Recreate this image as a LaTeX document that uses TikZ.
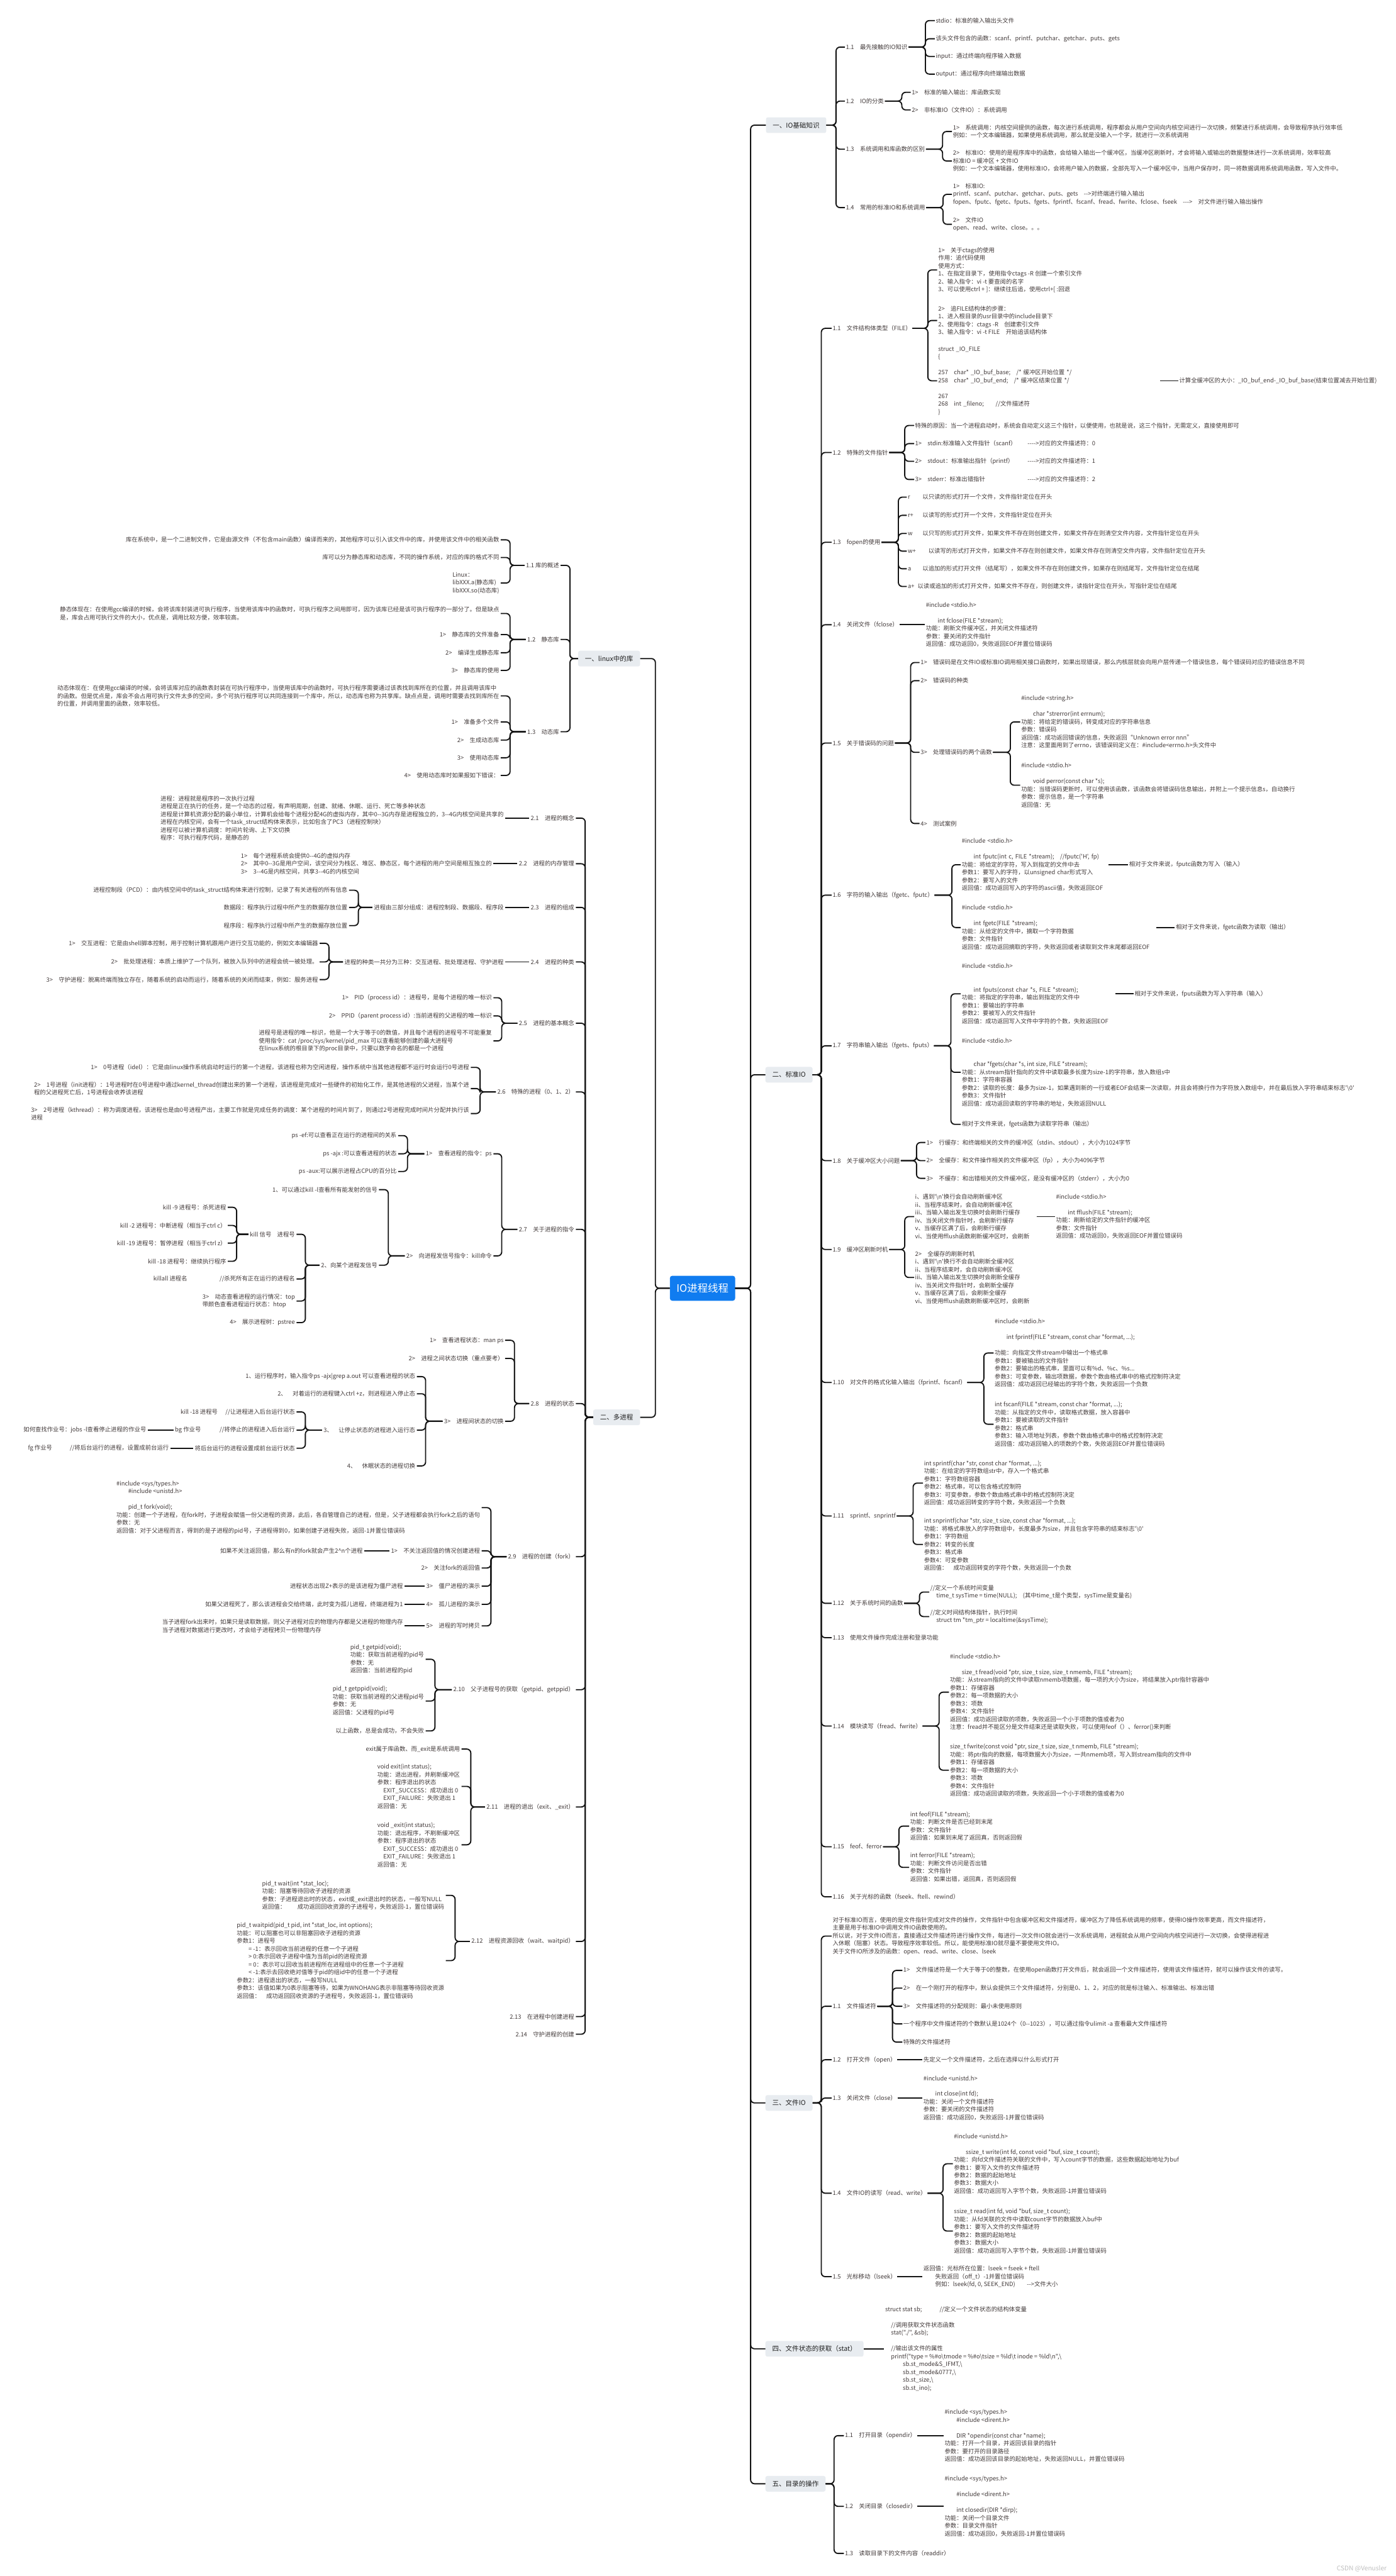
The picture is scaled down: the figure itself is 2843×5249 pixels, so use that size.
\documentclass[tikz,border=0pt]{standalone}
\usepackage{fontspec}
\newfontfamily\cnfont{Noto Sans CJK SC}
\definecolor{leafc}{RGB}{66,58,58}
\definecolor{topicc}{RGB}{232,236,240}
\definecolor{topict}{RGB}{30,30,30}
\definecolor{rootc}{RGB}{16,124,240}
\definecolor{linec}{RGB}{20,20,20}
\newcommand\leaffont{\cnfont\fontsize{12}{16}\selectfont}
\newcommand\topicfont{\cnfont\fontsize{13.5}{16}\selectfont}
\newcommand\rootfont{\cnfont\fontsize{21}{24}\selectfont}
\tikzset{
  leaf/.style={anchor=west, inner xsep=2pt, inner ysep=1pt, align=left, font=\leaffont, text=leafc},
  lleaf/.style={leaf, anchor=east, inner xsep=3pt},
  topic/.style={anchor=west, fill=topicc, rounded corners=4pt, inner xsep=14pt, minimum height=32pt, font=\topicfont, text=topict},
  ltopic/.style={topic, anchor=east},
  rootnode/.style={fill=rootc, rounded corners=5pt, minimum width=133pt, minimum height=51pt, font=\rootfont, text=white},
  link/.style={draw=linec, line width=2.4pt, rounded corners=8pt},
}
% parent -> spine x -> child
\newcommand\rlink[3]{\draw[link] (#1.east) -- (#1.east -| #3,0) |- (#2.west);}
\newcommand\llink[3]{\draw[link] (#1.west) -- (#1.west -| #3,0) |- (#2.east);}
\newcommand\slink[2]{\draw[link] (#1.east) -- (#2.west);}
\newcommand\lslink[2]{\draw[link] (#1.west) -- (#2.east);}

\begin{document}
\begin{tikzpicture}[x=1pt,y=-1pt]
  \fill[white] (0,0) rectangle (2843,5249);
  \useasboundingbox (0,0) rectangle (2843,5249);

  \node[rootnode] (io) at (1431,2625) {IO进程线程};

  %--- 一、IO基础知识 ---
  \node[topic] (bio) at (1560,255) {一、IO基础知识};
  \node[leaf] (b1) at (1721,96) {1.1　最先接触的IO知识};
  \node[leaf] (b1a) at (1904,42) {stdio：标准的输入输出头文件};
  \node[leaf] (b1b) at (1904,79) {该头文件包含的函数：scanf、printf、putchar、getchar、puts、gets};
  \node[leaf] (b1c) at (1904,115) {input：通过终端向程序输入数据};
  \node[leaf] (b1d) at (1904,151) {output：通过程序向终端输出数据};
  \node[leaf] (b2) at (1721,206) {1.2　IO的分类};
  \node[leaf] (b2a) at (1855,188) {1>　标准的输入输出：库函数实现};
  \node[leaf] (b2b) at (1855,224) {2>　非标准IO（文件IO）：系统调用};
  \node[leaf] (b3) at (1721,304) {1.3　系统调用和库函数的区别};
  \node[leaf] (b3a) at (1939,268) {1>　系统调用：内核空间提供的函数，每次进行系统调用，程序都会从用户空间向内核空间进行一次切换，频繁进行系统调用，会导致程序执行效率低\\例如：一个文本编辑器，如果使用系统调用，那么就是没输入一个字，就进行一次系统调用};
  \node[leaf] (b3b) at (1939,328) {2>　标准IO：使用的是程序库中的函数，会给输入输出一个缓冲区，当缓冲区刷新时，才会将输入或输出的数据整体进行一次系统调用，效率较高\\标准IO = 缓冲区 + 文件IO\\例如：一个文本编辑器，使用标准IO，会将用户输入的数据，全部先写入一个缓冲区中，当用户保存时，同一将数据调用系统调用函数，写入文件中。};
  \node[leaf] (b4) at (1721,423) {1.4　常用的标准IO和系统调用};
  \node[leaf] (b4a) at (1939,396) {1>　标准IO:\\printf、scanf、putchar、getchar、puts、gets　-->对终端进行输入输出\\fopen、fputc、fgetc、fputs、fgets、fprintf、fscanf、fread、fwrite、fclose、fseek　--->　对文件进行输入输出操作};
  \node[leaf] (b4b) at (1939,457) {2>　文件IO\\open、read、write、close。。。};

  \rlink{io}{bio}{1529}
  \rlink{bio}{b1}{1703} \rlink{bio}{b2}{1703} \rlink{bio}{b3}{1703} \rlink{bio}{b4}{1703}
  \rlink{b1}{b1a}{1885} \rlink{b1}{b1b}{1885} \rlink{b1}{b1c}{1885} \rlink{b1}{b1d}{1885}
  \rlink{b2}{b2a}{1837} \rlink{b2}{b2b}{1837}
  \rlink{b3}{b3a}{1920} \rlink{b3}{b3b}{1920}
  \rlink{b4}{b4a}{1921} \rlink{b4}{b4b}{1921}

  %--- 二、标准IO ---
  \node[topic] (sio) at (1559,2190) {二、标准IO};
  \node[leaf] (s1) at (1694,669) {1.1　文件结构体类型（FILE）};
  \node[leaf] (s1a) at (1909,550) {1>　关于ctags的使用\\作用：追代码使用\\使用方式：\\1、在指定目录下，使用指令ctags -R 创建一个索引文件\\2、输入指令：vi -t 要查阅的名字\\3、可以使用ctrl + ]：继续往后追，使用ctrl+[ :回退};
  \node[leaf] (s1b) at (1909,653) {2>　追FILE结构体的步骤：\\1、进入根目录的usr目录中的include目录下\\2、使用指令：ctags -R　创建索引文件\\3、输入指令：vi -t FILE　开始追该结构体};
  \node[leaf, text width=450pt] (s1c) at (1909,776) {struct \_IO\_FILE\\\{\\[16pt]257　char* \_IO\_buf\_base;　/* 缓冲区开始位置 */\\258　char* \_IO\_buf\_end;　/* 缓冲区结束位置 */\\[16pt]267\\268　int \_fileno;　　//文件描述符\\\}};
  \node[leaf] (s1c1) at (2400,776) {计算全缓冲区的大小：\_IO\_buf\_end-\_IO\_buf\_base(结束位置减去开始位置)};
  \node[leaf] (s2) at (1694,922) {1.2　特殊的文件指针};
  \node[leaf] (s2a) at (1862,867) {特殊的原因：当一个进程启动时，系统会自动定义这三个指针，以便使用，也就是说，这三个指针，无需定义，直接使用即可};
  \node[leaf] (s2b) at (1862,904) {\makebox[229pt][l]{1>　stdin:标准输入文件指针（scanf）}---->对应的文件描述符：0};
  \node[leaf] (s2c) at (1862,940) {\makebox[229pt][l]{2>　stdout：标准输出指针（printf）}---->对应的文件描述符：1};
  \node[leaf] (s2d) at (1862,977) {\makebox[229pt][l]{3>　stderr：标准出错指针}---->对应的文件描述符：2};
  \node[leaf] (s3) at (1694,1105) {1.3　fopen的使用};
  \node[leaf] (s3a) at (1847,1013) {\makebox[30pt][l]{r}以只读的形式打开一个文件，文件指针定位在开头};
  \node[leaf] (s3b) at (1847,1050) {\makebox[30pt][l]{r+}以读写的形式打开一个文件，文件指针定位在开头};
  \node[leaf] (s3c) at (1847,1087) {\makebox[30pt][l]{w}以只写的形式打开文件，如果文件不存在则创建文件，如果文件存在则清空文件内容，文件指针定位在开头};
  \node[leaf] (s3d) at (1847,1123) {\makebox[42pt][l]{w+}以读写的形式打开文件，如果文件不存在则创建文件，如果文件存在则清空文件内容，文件指针定位在开头};
  \node[leaf] (s3e) at (1847,1159) {\makebox[30pt][l]{a}以追加的形式打开文件（结尾写），如果文件不存在则创建文件，如果存在则结尾写，文件指针定位在结尾};
  \node[leaf] (s3f) at (1847,1195) {\makebox[20pt][l]{a+}以读或追加的形式打开文件，如果文件不存在，则创建文件，读指针定位在开头，写指针定位在结尾};
  \node[leaf] (s4) at (1694,1273) {1.4　关闭文件（fclose）};
  \node[leaf] (s4a) at (1884,1273) {\#include <stdio.h>\\[16pt]　　int fclose(FILE *stream);\\功能：刷新文件缓冲区，并关闭文件描述符\\参数：要关闭的文件指针\\返回值：成功返回0，失败返回EOF并置位错误码};
  \node[leaf] (s5) at (1694,1514) {1.5　关于错误码的问题};
  \node[leaf] (s5a) at (1873,1350) {1>　错误码是在文件IO或标准IO调用相关接口函数时，如果出现错误，那么内核层就会向用户层传递一个错误信息，每个错误码对应的错误信息不同};
  \node[leaf] (s5b) at (1873,1387) {2>　错误码的种类};
  \node[leaf] (s5c) at (1873,1533) {3>　处理错误码的两个函数};
  \node[leaf] (s5d) at (1873,1678) {4>　测试案例};
  \node[leaf] (s5c1) at (2078,1471) {\#include <string.h>\\[16pt]　　char *strerror(int errnum);\\功能：将给定的错误码，转变成对应的字符串信息\\参数：错误码\\返回值：成功返回错误的信息，失败返回“Unknown error nnn”\\注意：这里面用到了errno，该错误码定义在：\#include<errno.h>头文件中};
  \node[leaf] (s5c2) at (2078,1600) {\#include <stdio.h>\\[16pt]　　void perror(const char *s);\\功能：当错误码更新时，可以使用该函数，该函数会将错误码信息输出，并附上一个提示信息s，自动换行\\参数：提示信息，是一个字符串\\返回值：无};
  \node[leaf] (s6) at (1694,1824) {1.6　字符的输入输出（fgetc、fputc）};
  \node[leaf, text width=296pt] (s6a) at (1957,1762) {\#include <stdio.h>\\[16pt]　　int fputc(int c, FILE *stream);　//fputc('H', fp)\\功能：将给定的字符，写入到指定的文件中去\\参数1：要写入的字符，以unsigned char形式写入\\参数2：要写入的文件\\返回值：成功返回写入的字符的ascii值，失败返回EOF};
  \node[leaf] (s6a1) at (2298,1762) {相对于文件来说，fputc函数为写入（输入）};
  \node[leaf, text width=394pt] (s6b) at (1957,1890) {\#include <stdio.h>\\[16pt]　　int fgetc(FILE *stream);\\功能：从给定的文件中，摘取一个字符数据\\参数：文件指针\\返回值：成功返回摘取的字符，失败返回或者读取到文件末尾都返回EOF};
  \node[leaf] (s6b1) at (2393,1890) {相对于文件来说，fgetc函数为读取（输出）};
  \node[leaf] (s7) at (1694,2131) {1.7　字符串输入输出（fgets、fputs）};
  \node[leaf, text width=311pt] (s7a) at (1957,2025) {\#include <stdio.h>\\[32pt]　　int fputs(const char *s, FILE *stream);\\功能：将指定的字符串，输出到指定的文件中\\参数1：要输出的字符串\\参数2：要被写入的文件指针\\返回值：成功返回写入文件中字符的个数，失败返回EOF};
  \node[leaf] (s7a1) at (2309,2025) {相对于文件来说，fputs函数为写入字符串（输入）};
  \node[leaf] (s7b) at (1957,2185) {\#include <stdio.h>\\[32pt]　　char *fgets(char *s, int size, FILE *stream);\\功能：从stream指针指向的文件中读取最多长度为size-1的字符串，放入数组s中\\参数1：字符串容器\\参数2：读取的长度：最多为size-1，如果遇到新的一行或者EOF会结束一次读取，并且会将换行作为字符放入数组中，并在最后放入字符串结束标志'\textbackslash 0'\\参数3：文件指针\\返回值：成功返回读取的字符串的地址，失败返回NULL};
  \node[leaf] (s7c) at (1957,2291) {相对于文件来说，fgets函数为读取字符串（输出）};
  \node[leaf] (s8) at (1694,2365) {1.8　关于缓冲区大小问题};
  \node[leaf] (s8a) at (1885,2328) {1>　行缓存：和终端相关的文件的缓冲区（stdin、stdout），大小为1024字节};
  \node[leaf] (s8b) at (1885,2365) {2>　全缓存：和文件操作相关的文件缓冲区（fp），大小为4096字节};
  \node[leaf] (s8c) at (1885,2401) {3>　不缓存：和出错相关的文件缓冲区，是没有缓冲区的（stderr），大小为0};
  \node[leaf] (s9) at (1694,2546) {1.9　缓冲区刷新时机};
  \node[leaf, text width=245pt] (s9a) at (1862,2479) {i、遇到'\textbackslash n'换行会自动刷新缓冲区\\ii、当程序结束时，会自动刷新缓冲区\\iii、当输入输出发生切换时会刷新行缓存\\iv、当关闭文件指针时，会刷新行缓存\\v、当缓存区满了后，会刷新行缓存\\vi、当使用fflush函数刷新缓冲区时，会刷新};
  \node[leaf] (s9a1) at (2149,2479) {\#include <stdio.h>\\[16pt]　　int fflush(FILE *stream);\\功能：刷新给定的文件指针的缓冲区\\参数：文件指针\\返回值：成功返回0，失败返回EOF并置位错误码};
  \node[leaf] (s9b) at (1862,2603) {2>　全缓存的刷新时机\\i、遇到'\textbackslash n'换行不会自动刷新全缓冲区\\ii、当程序结束时，会自动刷新缓冲区\\iii、当输入输出发生切换时会刷新全缓存\\iv、当关闭文件指针时，会刷新全缓存\\v、当缓存区满了后，会刷新全缓存\\vi、当使用fflush函数刷新缓冲区时，会刷新};
  \node[leaf] (s10) at (1694,2817) {1.10　对文件的格式化输入输出（fprintf、fscanf）};
  \node[leaf] (s10a) at (2024,2757) {\#include <stdio.h>\\[16pt]　　int fprintf(FILE *stream, const char *format, ...);\\[16pt]功能：向指定文件stream中输出一个格式串\\参数1：要被输出的文件指针\\参数2：要输出的格式串，里面可以有\%d、\%c、\%s...\\参数3：可变参数，输出项数据，参数个数由格式串中的格式控制符决定\\返回值：成功返回已经输出的字符个数，失败返回一个负数};
  \node[leaf] (s10b) at (2024,2902) {int fscanf(FILE *stream, const char *format, ...);\\功能：从指定的文件中，读取格式数据，放入容器中\\参数1：要被读取的文件指针\\参数2：格式串\\参数3：输入项地址列表，参数个数由格式串中的格式控制符决定\\返回值：成功返回输入的项数的个数，失败返回EOF并置位错误码};
  \node[leaf] (s11) at (1694,3089) {1.11　sprintf、snprintf};
  \node[leaf] (s11a) at (1880,3022) {int sprintf(char *str, const char *format, ...);\\功能：在给定的字符数组str中，存入一个格式串\\参数1：字符数组容器\\参数2：格式串，可以包含格式控制符\\参数3：可变参数，参数个数由格式串中的格式控制符决定\\返回值：成功返回转变的字符个数，失败返回一个负数};
  \node[leaf] (s11b) at (1880,3147) {int snprintf(char *str, size\_t size, const char *format, ...);\\功能：将格式串放入的字符数组中，长度最多为size，并且包含字符串的结束标志'\textbackslash 0'\\参数1：字符数组\\参数2：转变的长度\\参数3：格式串\\参数4：可变参数\\返回值：　成功返回转变的字符个数，失败返回一个负数};
  \node[leaf] (s12) at (1694,3267) {1.12　关于系统时间的函数};
  \node[leaf] (s12a) at (1893,3244) {//定义一个系统时间变量\\　time\_t sysTime = time(NULL);　(其中time\_t是个类型，sysTime是变量名)};
  \node[leaf] (s12b) at (1893,3294) {//定义时间结构体指针，执行时间\\　struct tm *tm\_ptr = localtime(\&sysTime);};
  \node[leaf] (s13) at (1694,3337) {1.13　使用文件操作完成注册和登录功能};
  \node[leaf] (s14) at (1694,3517) {1.14　模块读写（fread、fwrite）};
  \node[leaf] (s14a) at (1933,3448) {\#include <stdio.h>\\[16pt]　　size\_t fread(void *ptr, size\_t size, size\_t nmemb, FILE *stream);\\功能：从stream指向的文件中读取nmemb项数据，每一项的大小为size，将结果放入ptr指针容器中\\参数1：存储容器\\参数2：每一项数据的大小\\参数3：项数\\参数4：文件指针\\返回值：成功返回读取的项数，失败返回一个小于项数的值或者为0\\注意：fread并不能区分是文件结束还是读取失败，可以使用feof（）、ferror()来判断};
  \node[leaf] (s14b) at (1933,3607) {size\_t fwrite(const void *ptr, size\_t size, size\_t nmemb, FILE *stream);\\功能：将ptr指向的数据，每项数据大小为size，一共nmemb项，写入到stream指向的文件中\\参数1：存储容器\\参数2：每一项数据的大小\\参数3：项数\\参数4：文件指针\\返回值：成功返回读取的项数，失败返回一个小于项数的值或者为0};
  \node[leaf] (s15) at (1694,3763) {1.15　feof、ferror};
  \node[leaf] (s15a) at (1852,3721) {int feof(FILE *stream);\\功能：判断文件是否已经到末尾\\参数：文件指针\\返回值：如果到末尾了返回真，否则返回假};
  \node[leaf] (s15b) at (1852,3805) {int ferror(FILE *stream);\\功能：判断文件访问是否出错\\参数：文件指针\\返回值：如果出错，返回真，否则返回假};
  \node[leaf] (s16) at (1694,3865) {1.16　关于光标的函数（fseek、ftell、rewind）};

  \rlink{io}{sio}{1529}
  \rlink{sio}{s1}{1673} \rlink{sio}{s2}{1673} \rlink{sio}{s3}{1673} \rlink{sio}{s4}{1673}
  \rlink{sio}{s5}{1673} \rlink{sio}{s6}{1673} \rlink{sio}{s7}{1673} \rlink{sio}{s8}{1673}
  \rlink{sio}{s9}{1673} \rlink{sio}{s10}{1673} \rlink{sio}{s11}{1673} \rlink{sio}{s12}{1673}
  \rlink{sio}{s13}{1673} \rlink{sio}{s14}{1673} \rlink{sio}{s15}{1673} \rlink{sio}{s16}{1673}
  \rlink{s1}{s1a}{1890} \rlink{s1}{s1b}{1890} \rlink{s1}{s1c}{1890}
  \slink{s1c}{s1c1}
  \rlink{s2}{s2a}{1843} \rlink{s2}{s2b}{1843} \rlink{s2}{s2c}{1843} \rlink{s2}{s2d}{1843}
  \rlink{s3}{s3a}{1830} \rlink{s3}{s3b}{1830} \rlink{s3}{s3c}{1830}
  \rlink{s3}{s3d}{1830} \rlink{s3}{s3e}{1830} \rlink{s3}{s3f}{1830}
  \slink{s4}{s4a}
  \rlink{s5}{s5a}{1855} \rlink{s5}{s5b}{1855} \rlink{s5}{s5c}{1855} \rlink{s5}{s5d}{1855}
  \rlink{s5c}{s5c1}{2058} \rlink{s5c}{s5c2}{2058}
  \rlink{s6}{s6a}{1939} \rlink{s6}{s6b}{1939}
  \slink{s6a}{s6a1} \slink{s6b}{s6b1}
  \rlink{s7}{s7a}{1937} \rlink{s7}{s7b}{1937} \rlink{s7}{s7c}{1937}
  \slink{s7a}{s7a1}
  \rlink{s8}{s8a}{1867} \rlink{s8}{s8b}{1867} \rlink{s8}{s8c}{1867}
  \rlink{s9}{s9a}{1843} \rlink{s9}{s9b}{1843}
  \slink{s9a}{s9a1}
  \rlink{s10}{s10a}{2004} \rlink{s10}{s10b}{2004}
  \rlink{s11}{s11a}{1860} \rlink{s11}{s11b}{1860}
  \rlink{s12}{s12a}{1873} \rlink{s12}{s12b}{1873}
  \rlink{s14}{s14a}{1913} \rlink{s14}{s14b}{1913}
  \rlink{s15}{s15a}{1831} \rlink{s15}{s15b}{1831}

  %--- 三、文件IO ---
  \node[topic] (fio) at (1559,4285) {三、文件IO};
  \node[leaf] (f0) at (1694,3945) {对于标准IO而言，使用的是文件指针完成对文件的操作，文件指针中包含缓冲区和文件描述符，缓冲区为了降低系统调用的频率，使得IO操作效率更高，而文件描述符，\\主要是用于标准IO中调用文件IO函数使用的。\\所以说，对于文件IO而言，直接通过文件描述符进行操作文件，每进行一次文件IO就会进行一次系统调用，进程就会从用户空间向内核空间进行一次切换，会使得进程进\\入休眠（阻塞）状态。导致程序效率较低。所以，能使用标准IO就尽量不要使用文件IO。\\关于文件IO所涉及的函数：open、read、write、close、lseek};
  \node[leaf] (f1) at (1694,4088) {1.1　文件描述符};
  \node[leaf] (f1a) at (1838,4015) {1>　文件描述符是一个大于等于0的整数，在使用open函数打开文件后，就会返回一个文件描述符，使用该文件描述符，就可以操作该文件的读写。};
  \node[leaf] (f1b) at (1838,4051) {2>　在一个刚打开的程序中，默认会提供三个文件描述符，分别是0、1、2，对应的就是标注输入、标准输出、标准出错};
  \node[leaf] (f1c) at (1838,4088) {3>　文件描述符的分配规则：最小未使用原则};
  \node[leaf] (f1d) at (1838,4124) {一个程序中文件描述符的个数默认是1024个（0--1023），可以通过指令ulimit -a 查看最大文件描述符};
  \node[leaf] (f1e) at (1838,4161) {特殊的文件描述符};
  \node[leaf] (f2) at (1694,4197) {1.2　打开文件（open）};
  \node[leaf] (f2a) at (1879,4197) {先定义一个文件描述符，之后在选择以什么形式打开};
  \node[leaf] (f3) at (1694,4275) {1.3　关闭文件（close）};
  \node[leaf] (f3a) at (1879,4275) {\#include <unistd.h>\\[16pt]　　int close(int fd);\\功能：关闭一个文件描述符\\参数：要关闭的文件描述符\\返回值：成功返回0，失败返回-1并置位错误码};
  \node[leaf] (f4) at (1694,4469) {1.4　文件IO的读写（read、write）};
  \node[leaf] (f4a) at (1941,4409) {\#include <unistd.h>\\[16pt]　　ssize\_t write(int fd, const void *buf, size\_t count);\\功能：向fd文件描述符关联的文件中，写入count字节的数据，这些数据起始地址为buf\\参数1：要写入文件的文件描述符\\参数2：数据的起始地址\\参数3：数据大小\\返回值：成功返回写入字节个数，失败返回-1并置位错误码};
  \node[leaf] (f4b) at (1941,4546) {ssize\_t read(int fd, void *buf, size\_t count);\\功能：从fd关联的文件中读取count字节的数据放入buf中\\参数1：要写入文件的文件描述符\\参数2：数据的起始地址\\参数3：数据大小\\返回值：成功返回写入字节个数，失败返回-1并置位错误码};
  \node[leaf] (f5) at (1694,4639) {1.5　光标移动（lseek）};
  \node[leaf] (f5a) at (1879,4639) {返回值：光标所在位置：lseek = fseek + ftell\\　　失败返回（off\_t）-1并置位错误码\\　　例如：lseek(fd, 0, SEEK\_END)　　-->文件大小};

  \rlink{io}{fio}{1529}
  \rlink{fio}{f0}{1673} \rlink{fio}{f1}{1673} \rlink{fio}{f2}{1673}
  \rlink{fio}{f3}{1673} \rlink{fio}{f4}{1673} \rlink{fio}{f5}{1673}
  \rlink{f1}{f1a}{1818} \rlink{f1}{f1b}{1818} \rlink{f1}{f1c}{1818} \rlink{f1}{f1d}{1818} \rlink{f1}{f1e}{1818}
  \slink{f2}{f2a} \slink{f3}{f3a}
  \rlink{f4}{f4a}{1921} \rlink{f4}{f4b}{1921}
  \slink{f5}{f5a}

  %--- 四、文件状态的获取 ---
  \node[topic] (stat) at (1559,4786) {四、文件状态的获取（stat）};
  \node[leaf] (st1) at (1801,4786) {struct stat sb;　　　//定义一个文件状态的结构体变量\\[16pt]　//调用获取文件状态函数\\　stat("./", \&sb);\\[16pt]　//输出该文件的属性\\　printf("type = \%\#o\textbackslash tmode = \%\#o\textbackslash tsize = \%ld\textbackslash t inode = \%ld\textbackslash n",\textbackslash\\　　　sb.st\_mode\&S\_IFMT,\textbackslash\\　　　sb.st\_mode\&0777,\textbackslash\\　　　sb.st\_size,\textbackslash\\　　　sb.st\_ino);};
  \rlink{io}{stat}{1529}
  \slink{stat}{st1}

  %--- 五、目录的操作 ---
  \node[topic] (dir) at (1559,5061) {五、目录的操作};
  \node[leaf] (d1) at (1719,4963) {1.1　打开目录（opendir）};
  \node[leaf] (d1a) at (1922,4963) {\#include <sys/types.h>\\　　\#include <dirent.h>\\[16pt]　　DIR *opendir(const char *name);\\功能：打开一个目录，并返回该目录的指针\\参数：要打开的目录路径\\返回值：成功返回该目录的起始地址，失败返回NULL，并置位错误码};
  \node[leaf] (d2) at (1719,5107) {1.2　关闭目录（closedir）};
  \node[leaf] (d2a) at (1922,5107) {\#include <sys/types.h>\\[16pt]　　\#include <dirent.h>\\[16pt]　　int closedir(DIR *dirp);\\功能：关闭一个目录文件\\参数：目录文件指针\\返回值：成功返回0，失败返回-1并置位错误码};
  \node[leaf] (d3) at (1719,5203) {1.3　读取目录下的文件内容（readdir）};
  \rlink{io}{dir}{1529}
  \rlink{dir}{d1}{1699} \rlink{dir}{d2}{1699} \rlink{dir}{d3}{1699}
  \slink{d1}{d1a} \slink{d2}{d2a}

  %--- 一、linux中的库 ---
  \node[ltopic] (lib) at (1304,1342) {一、linux中的库};
  \node[lleaf] (l1) at (1142,1152) {1.1 库的概述};
  \node[lleaf] (l1a) at (1020,1100) {库在系统中，是一个二进制文件，它是由源文件（不包含main函数）编译而来的，其他程序可以引入该文件中的库，并使用该文件中的相关函数};
  \node[lleaf] (l1b) at (1020,1136) {库可以分为静态库和动态库，不同的操作系统，对应的库的格式不同};
  \node[lleaf] (l1c) at (1020,1188) {Linux：\\libXXX.a(静态库)\\libXXX.so(动态库)};
  \node[lleaf] (l2) at (1142,1303) {1.2　静态库};
  \node[lleaf] (l2a) at (1020,1250) {静态体现在：在使用gcc编译的时候，会将该库封装进可执行程序，当使用该库中的函数时，可执行程序之间用即可，因为该库已经是该可执行程序的一部分了。但是缺点\\是，库会占用可执行文件的大小，优点是，调用比较方便，效率较高。};
  \node[lleaf] (l2b) at (1020,1293) {1>　静态库的文件准备};
  \node[lleaf] (l2c) at (1020,1330) {2>　编译生成静态库};
  \node[lleaf] (l2d) at (1020,1366) {3>　静态库的使用};
  \node[lleaf] (l3) at (1142,1491) {1.3　动态库};
  \node[lleaf] (l3a) at (1020,1418) {动态体现在：在使用gcc编译的时候，会将该库对应的函数表封装在可执行程序中，当使用该库中的函数时，可执行程序需要通过该表找到库所在的位置，并且调用该库中\\的函数。但是优点是，库会不会占用可执行文件太多的空间，多个可执行程序可以共同连接到一个库中，所以，动态库也称为共享库。缺点点是，调用时需要去找到库所在\\的位置，并调用里面的函数，效率较低。};
  \node[lleaf] (l3b) at (1020,1471) {1>　准备多个文件};
  \node[lleaf] (l3c) at (1020,1508) {2>　生成动态库};
  \node[lleaf] (l3d) at (1020,1544) {3>　使用动态库};
  \node[lleaf] (l3e) at (1020,1580) {4>　使用动态库时如果报如下错误：};

  \llink{io}{lib}{1335}
  \llink{lib}{l1}{1161} \llink{lib}{l2}{1161} \llink{lib}{l3}{1161}
  \llink{l1}{l1a}{1039} \llink{l1}{l1b}{1039} \llink{l1}{l1c}{1039}
  \llink{l2}{l2a}{1039} \llink{l2}{l2b}{1039} \llink{l2}{l2c}{1039} \llink{l2}{l2d}{1039}
  \llink{l3}{l3a}{1039} \llink{l3}{l3b}{1039} \llink{l3}{l3c}{1039} \llink{l3}{l3d}{1039} \llink{l3}{l3e}{1039}

  %--- 二、多进程 ---
  \node[ltopic] (proc) at (1304,2888) {二、多进程};
  \node[lleaf] (p1) at (1173,1667) {2.1　进程的概念};
  \node[lleaf] (p1a) at (1029,1667) {进程：进程就是程序的一次执行过程\\进程是正在执行的任务，是一个动态的过程，有声明周期，创建、就绪、休眠、运行、死亡等多种状态\\进程是计算机资源分配的最小单位，计算机会给每个进程分配4G的虚拟内存，其中0--3G内存是进程独立的，3--4G内核空间是共享的\\进程在内核空间，会有一个task\_struct结构体来表示，比如包含了PC3（进程控制块）\\进程可以被计算机调度：时间片轮询、上下文切换\\程序：可执行程序代码，是静态的};
  \node[lleaf] (p2) at (1173,1760) {2.2　进程的内存管理};
  \node[lleaf] (p2a) at (1005,1760) {1>　每个进程系统会提供0--4G的虚拟内存\\2>　其中0--3G是用户空间，该空间分为栈区、堆区、静态区，每个进程的用户空间是相互独立的\\3>　3--4G是内核空间，共享3--4G的内核空间};
  \node[lleaf] (p3) at (1173,1849) {2.3　进程的组成};
  \node[lleaf] (p3a) at (1029,1849) {进程由三部分组成：进程控制段、数据段、程序段};
  \node[lleaf] (p3a1) at (711,1814) {进程控制段（PCD）：由内核空间中的task\_struct结构体来进行控制，记录了有关进程的所有信息};
  \node[lleaf] (p3a2) at (711,1849) {数据段：程序执行过程中所产生的数据存放位置};
  \node[lleaf] (p3a3) at (711,1886) {程序段：程序执行过程中所产生的数据存放位置};
  \node[lleaf] (p4) at (1173,1960) {2.4　进程的种类};
  \node[lleaf] (p4a) at (1029,1960) {进程的种类一共分为三种：交互进程、批处理进程、守护进程};
  \node[lleaf] (p4a1) at (651,1922) {1>　交互进程：它是由shell脚本控制，用于控制计算机跟用户进行交互功能的，例如文本编辑器};
  \node[lleaf] (p4a2) at (651,1960) {2>　批处理进程：本质上维护了一个队列，被放入队列中的进程会统一被处理。};
  \node[lleaf] (p4a3) at (651,1996) {3>　守护进程：脱离终端而独立存在，随着系统的启动而运行，随着系统的关闭而结束，例如：服务进程};
  \node[lleaf] (p5) at (1173,2085) {2.5　进程的基本概念};
  \node[lleaf] (p5a) at (1005,2033) {1>　PID（process id）：进程号，是每个进程的唯一标识};
  \node[lleaf] (p5b) at (1005,2070) {2>　PPID（parent process id）:当前进程的父进程的唯一标识};
  \node[lleaf] (p5c) at (1005,2121) {进程号是进程的唯一标识，他是一个大于等于0的数值，并且每个进程的进程号不可能重复\\使用指令：cat /proc/sys/kernel/pid\_max 可以查看能够创建的最大进程号\\在linux系统的根目录下的proc目录中，只要以数字命名的都是一个进程};
  \node[lleaf] (p6) at (1173,2225) {2.6　特殊的进程（0、1、2）};
  \node[lleaf] (p6a) at (959,2175) {1>　0号进程（idel）：它是由linux操作系统启动时运行的第一个进程，该进程也称为空闲进程，操作系统中当其他进程都不运行时会运行0号进程};
  \node[lleaf] (p6b) at (959,2218) {2>　1号进程（init进程）：1号进程时在0号进程中通过kernel\_thread创建出来的第一个进程，该进程是完成对一些硬件的初始化工作，是其他进程的父进程，当某个进\\程的父进程死亡后，1号进程会收养该进程};
  \node[lleaf] (p6c) at (959,2269) {3>　2号进程（kthread）：称为调度进程，该进程也是由0号进程产出，主要工作就是完成任务的调度：某个进程的时间片到了，则通过2号进程完成时间片分配并执行该\\进程};
  \node[lleaf] (p7) at (1173,2505) {2.7　关于进程的指令};
  \node[lleaf] (p7a) at (1005,2351) {1>　查看进程的指令：ps};
  \node[lleaf] (p7a1) at (811,2314) {ps -ef:可以查看正在运行的进程间的关系};
  \node[lleaf] (p7a2) at (811,2351) {ps -ajx :可以查看进程的状态};
  \node[lleaf] (p7a3) at (811,2387) {ps -aux:可以展示进程占CPU的百分比};
  \node[lleaf] (p7b) at (1005,2559) {2>　向进程发信号指令：kill命令};
  \node[lleaf] (p7b1) at (772,2424) {1、可以通过kill -l查看所有能发射的信号};
  \node[lleaf] (p7b2) at (772,2578) {2、向某个进程发信号};
  \node[lleaf] (p7b2a) at (604,2515) {kill 信号　进程号};
  \node[lleaf] (k1) at (464,2460) {kill -9 进程号：杀死进程};
  \node[lleaf] (k2) at (464,2497) {kill -2 进程号：中断进程（相当于ctrl c）};
  \node[lleaf] (k3) at (464,2533) {kill -19 进程号：暂停进程（相当于ctrl z）};
  \node[lleaf] (k4) at (464,2570) {kill -18 进程号：继续执行程序};
  \node[lleaf] (p7b2b) at (604,2606) {killall 进程名\hspace{66pt}//杀死所有正在运行的进程名};
  \node[lleaf] (p7b2c) at (604,2651) {3>　动态查看进程的运行情况：top\\带颜色查看进程运行状态：htop};
  \node[lleaf] (p7b2d) at (604,2695) {4>　展示进程树：pstree};
  \node[lleaf] (p8) at (1173,2860) {2.8　进程的状态};
  \node[lleaf] (p8a) at (1029,2731) {1>　查看进程状态：man ps};
  \node[lleaf] (p8b) at (1029,2768) {2>　进程之间状态切换（重点要考）};
  \node[lleaf] (p8c) at (1029,2896) {3>　进程间状态的切换};
  \node[lleaf] (p8c1) at (849,2805) {1、运行程序时，输入指令ps -ajx|grep a.out 可以查看进程的状态};
  \node[lleaf] (p8c2) at (849,2840) {2、　对着运行的进程键入ctrl +z，则进程进入停止态};
  \node[lleaf] (p8c3) at (849,2914) {3、　让停止状态的进程进入运行态};
  \node[lleaf] (q1) at (604,2877) {kill -18 进程号\hspace{16pt}//让进程进入后台运行状态};
  \node[lleaf] (q2) at (604,2914) {bg 作业号\hspace{38pt}//将停止的进程进入后台运行};
  \node[lleaf] (q2a) at (301,2914) {如何查找作业号：jobs -l查看停止进程的作业号};
  \node[lleaf] (q3) at (604,2951) {将后台运行的进程设置成前台运行状态};
  \node[lleaf] (q3a) at (347,2951) {fg 作业号\hspace{36pt}//将后台运行的进程，设置成前台运行};
  \node[lleaf] (p8c4) at (849,2987) {4、　休眠状态的进程切换};
  \node[lleaf] (p9) at (1173,3172) {2.9　进程的创建（fork）};
  \node[lleaf] (p9a) at (981,3072) {\#include <sys/types.h>\\　　\#include <unistd.h>\\[16pt]　　pid\_t fork(void);\\功能：创建一个子进程，在fork时，子进程会赋值一份父进程的资源，此后，各自管理自己的进程，但是，父子进程都会执行fork之后的语句\\参数：无\\返回值：对于父进程而言，得到的是子进程的pid号，子进程得到0，如果创建子进程失败，返回-1并置位错误码};
  \node[lleaf] (p9b) at (981,3160) {1>　不关注返回值的情况创建进程};
  \node[lleaf] (p9b1) at (742,3160) {如果不关注返回值，那么有n的fork就会产生2\textasciicircum n个进程};
  \node[lleaf] (p9c) at (981,3195) {2>　关注fork的返回值};
  \node[lleaf] (p9d) at (981,3232) {3>　僵尸进程的演示};
  \node[lleaf] (p9d1) at (824,3232) {进程状态出现Z+表示的是该进程为僵尸进程};
  \node[lleaf] (p9e) at (981,3269) {4>　孤儿进程的演示};
  \node[lleaf] (p9e1) at (824,3269) {如果父进程死了，那么该进程会交给终端，此时变为孤儿进程，终端进程为1};
  \node[lleaf] (p9f) at (981,3313) {5>　进程的写时拷贝};
  \node[lleaf] (p9f1) at (824,3313) {当子进程fork出来时，如果只是读取数据，则父子进程对应的物理内存都是父进程的物理内存\\当子进程对数据进行更改时，才会给子进程拷贝一份物理内存};
  \node[lleaf] (p10) at (1173,3443) {2.10　父子进程号的获取（getpid、getppid）};
  \node[lleaf] (p10a) at (867,3381) {pid\_t getpid(void);\\功能：获取当前进程的pid号\\参数：无\\返回值：当前进程的pid};
  \node[lleaf] (p10b) at (867,3466) {pid\_t getppid(void);\\功能：获取当前进程的父进程pid号\\参数：无\\返回值：父进程的pid号};
  \node[lleaf] (p10c) at (867,3527) {以上函数，总是会成功，不会失败};
  \node[lleaf] (p11) at (1173,3682) {2.11　进程的退出（exit、\_exit）};
  \node[lleaf] (p11a) at (940,3564) {exit属于库函数、而\_exit是系统调用};
  \node[lleaf] (p11b) at (940,3640) {void exit(int status);\\功能：退出进程，并刷新缓冲区\\参数：程序退出的状态\\　EXIT\_SUCCESS：成功退出 0\\　EXIT\_FAILURE：失败退出 1\\返回值：无};
  \node[lleaf] (p11c) at (940,3759) {void \_exit(int status);\\功能：退出程序，不刷新缓冲区\\参数：程序退出的状态\\　EXIT\_SUCCESS：成功退出 0\\　EXIT\_FAILURE：失败退出 1\\返回值：无};
  \node[lleaf] (p12) at (1173,3956) {2.12　进程资源回收（wait、waitpid）};
  \node[lleaf] (p12a) at (908,3862) {pid\_t wait(int *stat\_loc);\\功能：阻塞等待回收子进程的资源\\参数：子进程退出时的状态，exit或\_exit退出时的状态，一般写NULL\\返回值：　　成功返回回收资源的子进程号，失败返回-1，置位错误码};
  \node[lleaf] (p12b) at (908,3995) {pid\_t waitpid(pid\_t pid, int *stat\_loc, int options);\\功能：可以阻塞也可以非阻塞回收子进程的资源\\参数1：进程号\\　　= -1：表示回收当前进程的任意一个子进程\\　　> 0:表示回收子进程中值为当前pid的进程资源\\　　= 0：表示可以回收当前进程所在进程组中的任意一个子进程\\　　< -1:表示去回收绝对值等于pid的组id中的任意一个子进程\\参数2：进程退出的状态，一般写NULL\\参数3：该值如果为0表示阻塞等待，如果为WNOHANG表示非阻塞等待回收资源\\返回值：　成功返回回收资源的子进程号，失败返回-1，置位错误码};
  \node[lleaf] (p13) at (1173,4109) {2.13　在进程中创建进程};
  \node[lleaf] (p14) at (1173,4145) {2.14　守护进程的创建};

  \llink{io}{proc}{1335}
  \llink{proc}{p1}{1192} \llink{proc}{p2}{1192} \llink{proc}{p3}{1192} \llink{proc}{p4}{1192}
  \llink{proc}{p5}{1192} \llink{proc}{p6}{1192} \llink{proc}{p7}{1192} \llink{proc}{p8}{1192}
  \llink{proc}{p9}{1192} \llink{proc}{p10}{1192} \llink{proc}{p11}{1192} \llink{proc}{p12}{1192}
  \llink{proc}{p13}{1192} \llink{proc}{p14}{1192}
  \lslink{p1}{p1a} \lslink{p2}{p2a} \lslink{p3}{p3a} \lslink{p4}{p4a}
  \llink{p3a}{p3a1}{730} \llink{p3a}{p3a2}{730} \llink{p3a}{p3a3}{730}
  \llink{p4a}{p4a1}{670} \llink{p4a}{p4a2}{670} \llink{p4a}{p4a3}{670}
  \llink{p5}{p5a}{1022} \llink{p5}{p5b}{1022} \llink{p5}{p5c}{1022}
  \llink{p6}{p6a}{978} \llink{p6}{p6b}{978} \llink{p6}{p6c}{978}
  \llink{p7}{p7a}{1022} \llink{p7}{p7b}{1022}
  \llink{p7a}{p7a1}{830} \llink{p7a}{p7a2}{830} \llink{p7a}{p7a3}{830}
  \llink{p7b}{p7b1}{791} \llink{p7b}{p7b2}{791}
  \llink{p7b2}{p7b2a}{622} \llink{p7b2}{p7b2b}{622} \llink{p7b2}{p7b2c}{622} \llink{p7b2}{p7b2d}{622}
  \llink{p7b2a}{k1}{482} \llink{p7b2a}{k2}{482} \llink{p7b2a}{k3}{482} \llink{p7b2a}{k4}{482}
  \llink{p8}{p8a}{1048} \llink{p8}{p8b}{1048} \llink{p8}{p8c}{1048}
  \llink{p8c}{p8c1}{867} \llink{p8c}{p8c2}{867} \llink{p8c}{p8c3}{867} \llink{p8c}{p8c4}{867}
  \llink{p8c3}{q1}{622} \llink{p8c3}{q2}{622} \llink{p8c3}{q3}{622}
  \lslink{q2}{q2a} \lslink{q3}{q3a}
  \llink{p9}{p9a}{1000} \llink{p9}{p9b}{1000} \llink{p9}{p9c}{1000}
  \llink{p9}{p9d}{1000} \llink{p9}{p9e}{1000} \llink{p9}{p9f}{1000}
  \lslink{p9b}{p9b1} \lslink{p9d}{p9d1} \lslink{p9e}{p9e1} \lslink{p9f}{p9f1}
  \llink{p10}{p10a}{886} \llink{p10}{p10b}{886} \llink{p10}{p10c}{886}
  \llink{p11}{p11a}{959} \llink{p11}{p11b}{959} \llink{p11}{p11c}{959}
  \llink{p12}{p12a}{927} \llink{p12}{p12b}{927}

  \node[anchor=east, font=\cnfont\fontsize{13}{15}\selectfont, text=black!25] (mark) at (2828,5234) {CSDN @Venusler};
\end{tikzpicture}
\end{document}
